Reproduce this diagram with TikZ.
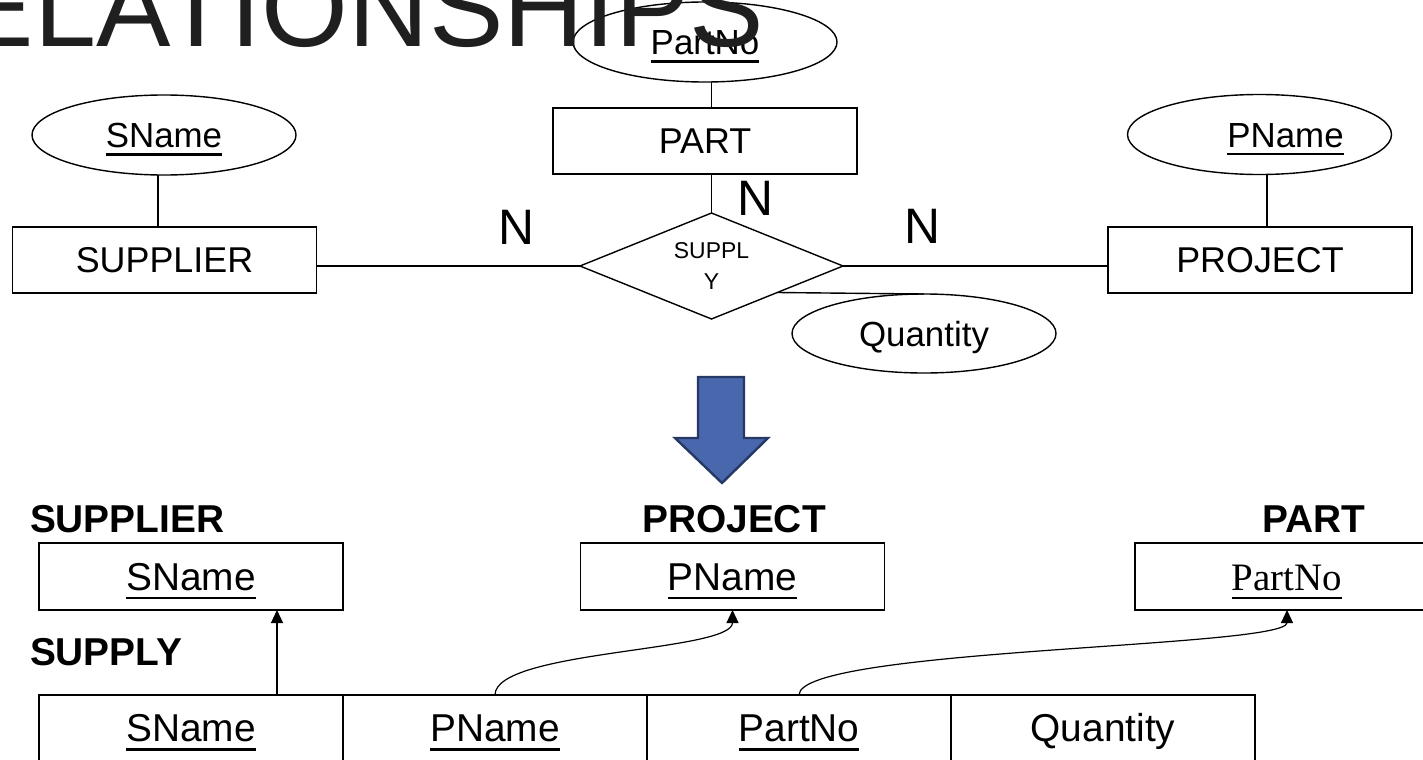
\documentclass[tikz,border=0pt]{standalone}
\usepackage{fontspec}
\setmainfont{Liberation Sans}
\newfontfamily\serifkey{Liberation Serif}
\usetikzlibrary{shapes.geometric,arrows.meta,calc}

% underlined key attribute
\newsavebox\ulbox
\newcommand\ulkey[1]{\sbox\ulbox{#1}\rlap{\rule[-0.23em]{\wd\ulbox}{0.07em}}\usebox\ulbox}
\newcommand\fs[1]{\fontsize{#1}{#1}\selectfont}

\definecolor{arrowfill}{RGB}{72,103,173}
\definecolor{arrowedge}{RGB}{38,56,100}

\begin{document}
\begin{tikzpicture}[x=1bp,y=-1bp,
  every node/.style={inner sep=0pt,outer sep=0pt},
  link/.style={line width=1.4bp},
  entity/.style={draw,line width=1.4bp,rectangle,minimum width=304bp,minimum height=66bp,
    font=\fs{36},text height=25.8bp,text depth=0bp},
  attrib/.style={draw,line width=1.4bp,ellipse,minimum width=264bp,minimum height=80bp,
    font=\fs{35},text height=25bp,text depth=0bp},
  relship/.style={draw,line width=1.4bp,diamond,aspect=2.5,minimum width=263bp,minimum height=106bp,
    font=\fontsize{23}{31}\selectfont,align=center},
  card/.style={anchor=base,font=\fs{50}},
  relcell/.style={draw,line width=1.4bp,rectangle,minimum width=304bp,minimum height=67bp,
    font=\fs{39},text height=27.9bp,text depth=0bp},
  heading/.style={font=\bfseries\fs{39}},
  fk/.style={line width=1.2bp,-{Triangle[width=12bp,length=13bp]}},
]
\useasboundingbox (0,0) rectangle (1423,759);
\clip (0,0) rectangle (1423,759);

% ---------- ER diagram ----------
\node[attrib] (sname) at (164,135) {\ulkey{SName}};
\node[entity] (supplier) at (164.5,260) {SUPPLIER};
\node[relship] (supply) at (711.5,266) {SUPPL\\Y};
\node[entity] (part) at (705,141) {PART};
\node[attrib] (partno) at (705,42) {\ulkey{PartNo}};
\node[entity] (project) at (1260,260) {PROJECT};
\node[attrib] (pname) at (1259.5,134.5) {\hspace*{52bp}\ulkey{PName}};
\node[attrib,minimum height=79bp] (quantity) at (924,333.5) {Quantity};

\node[card] (nsup) at (516,244) {N};
\node[card] (npart) at (755.5,215) {N};
\node[card] (nproj) at (922.5,243) {N};

\draw[link] ($(sname.south)+(-6,0)$) -- ($(sname.south |- supplier.north)+(-6,0)$);
\draw[link] ($(pname.south)+(7.5,0)$) -- ($(pname.south |- project.north)+(7.5,0)$);
\draw[link] (supply.west -| supplier.east) -- (supply.west);
\draw[link] (supply.east) -- (supply.east -| project.west);
\draw[link] (supply.north |- partno.south) -- (supply.north |- part.north);
\draw[link] (supply.north |- part.south) -- (supply.north);
\draw[link] ($(supply.east)!0.5!(supply.south)$) -- (quantity.north);

% ---------- mapping arrow ----------
\draw[fill=arrowfill,draw=arrowedge,line width=2.4bp,line join=miter]
  (698,377) -- (744,377) -- (744,438) -- (768,438) -- (722,483) -- (675,438) -- (698,438) -- cycle;

% ---------- relations ----------
\node[heading,anchor=base west] (hsupplier) at (30,532) {SUPPLIER};
\node[heading,anchor=base] (hproject) at (734,532) {PROJECT};
\node[heading,anchor=base east] (hpart) at (1365,532) {PART};
\node[heading,anchor=base west] (hsupply) at (30,665) {SUPPLY};

\node[relcell] (ksup) at (191,576.5) {\ulkey{SName}};
\node[relcell] (kproj) at (732.5,576.5) {\ulkey{PName}};
\node[relcell] (kpart) at (1287,576.5) {\serifkey\ulkey{PartNo}};

\node[relcell,minimum height=66bp] (c1) at (191,728) {\ulkey{SName}};
\node[relcell,minimum height=66bp] (c2) at (495,728) {\ulkey{PName}};
\node[relcell,minimum height=66bp] (c3) at (799,728) {\ulkey{PartNo}};
\node[relcell,minimum height=66bp] (c4) at (1103,728) {Quantity};

\draw[fk] ($(c1.north)+(86,0)$) -- ($(ksup.south)+(86,0)$);
\draw[fk] (c2.north) .. controls +(0,-45) and +(0,42) .. (kproj.south);
\draw[fk] (c3.north) .. controls +(0,-47) and +(0,38) .. (kpart.south);

% ---------- slide title ----------
\node[anchor=base east,font=\fs{112},text=black!88] (title) at (764,47) {RELATIONSHIPS};
\end{tikzpicture}
\end{document}
